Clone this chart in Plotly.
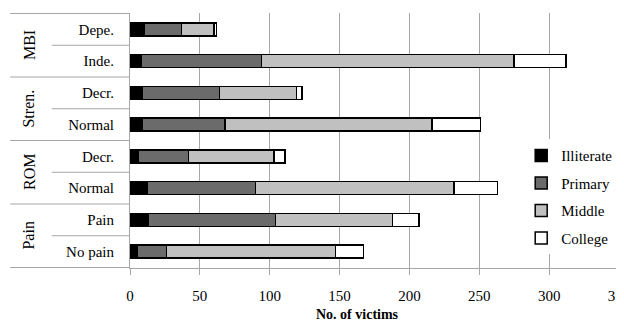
import plotly.graph_objects as go

groups = ["MBI", "MBI", "Stren.", "Stren.", "ROM", "ROM", "Pain", "Pain"]
labels = ["Depe.", "Inde.", "Decr.", "Normal", "Decr.", "Normal", "Pain", "No pain"]
illiterate = [10, 8, 9, 9, 6, 12, 13, 5]
primary = [27, 86, 55, 59, 36, 78, 91, 21]
middle = [23, 181, 55, 148, 61, 142, 84, 121]
college = [2, 37, 4, 35, 8, 31, 19, 20]
series_names = ["Illiterate", "Primary", "Middle", "College"]
series_colors = ["#000000", "#6b6b6b", "#c0c0c0", "#ffffff"]
x_ticks = [0, 50, 100, 150, 200, 250, 300, 350]

ids = [f"{g}|{l}" for g, l in zip(groups, labels)]
series = [illiterate, primary, middle, college]
FONT = "Liberation Serif, Times New Roman, serif"
GRID = "#a6a6a6"

fig = go.Figure()
for name, vals, col in zip(series_names, series, series_colors):
    fig.add_trace(go.Bar(
        y=ids, x=vals, name=name, orientation="h",
        marker=dict(color=col, line=dict(color="#000000", width=1.5)),
        legendgroup=name,
    ))

# table lines on the left
shapes = []
n = len(ids)
for i in range(n + 1):
    b = i - 0.5
    is_group_edge = (i == 0 or i == n or groups[i] != groups[i - 1])
    x0 = -0.245 if is_group_edge else -0.16
    shapes.append(dict(type="line", xref="paper", yref="y", x0=x0, x1=0,
                       y0=b, y1=b, line=dict(color=GRID, width=1)))

annotations = []
seen = []
for g in groups:
    if g not in seen:
        seen.append(g)
for g in seen:
    idx = [i for i, gg in enumerate(groups) if gg == g]
    annotations.append(dict(xref="paper", yref="y", x=-0.207, y=sum(idx) / len(idx),
                            xanchor="center", yanchor="middle",
                            text=g, textangle=-90, showarrow=False,
                            font=dict(family=FONT, size=16, color="#000000")))
annotations.append(dict(xref="paper", yref="paper", x=0.466, y=-0.184,
                        xanchor="center", yanchor="middle",
                        text="<b>No. of victims</b>", showarrow=False,
                        font=dict(family=FONT, size=14, color="#000000")))

fig.update_layout(
    barmode="stack",
    bargap=0.59,
    width=624, height=325,
    margin=dict(l=122, r=13, t=5, b=65, autoexpand=False),
    paper_bgcolor="white", plot_bgcolor="white",
    font=dict(family=FONT, size=15, color="#000000"),
    showlegend=True,
    legend=dict(x=0.8, y=0.505, xanchor="left", yanchor="top",
                bgcolor="white", tracegroupgap=5,
                font=dict(family=FONT, size=15), itemwidth=30),
    shapes=shapes,
    annotations=annotations,
)
fig.update_xaxes(range=[0, 350], tickvals=x_ticks, showgrid=True, gridcolor=GRID,
                 gridwidth=1, showline=True, linecolor=GRID, linewidth=1,
                 ticks="outside", ticklen=6, tickcolor=GRID, zeroline=False,
                 tickfont=dict(family=FONT, size=15), ticklabelstandoff=8,
                 ticklabeloverflow="allow", automargin=False)
fig.update_yaxes(type="category", categoryorder="array", categoryarray=ids,
                 autorange="reversed", tickvals=ids, ticktext=labels,
                 showline=True, linecolor=GRID, linewidth=1, showgrid=False,
                 ticks="", tickfont=dict(family=FONT, size=15), ticklabelstandoff=12,
                 automargin=False)

fig.write_html("out.html", post_script="document.body.style.overflow='hidden';")
